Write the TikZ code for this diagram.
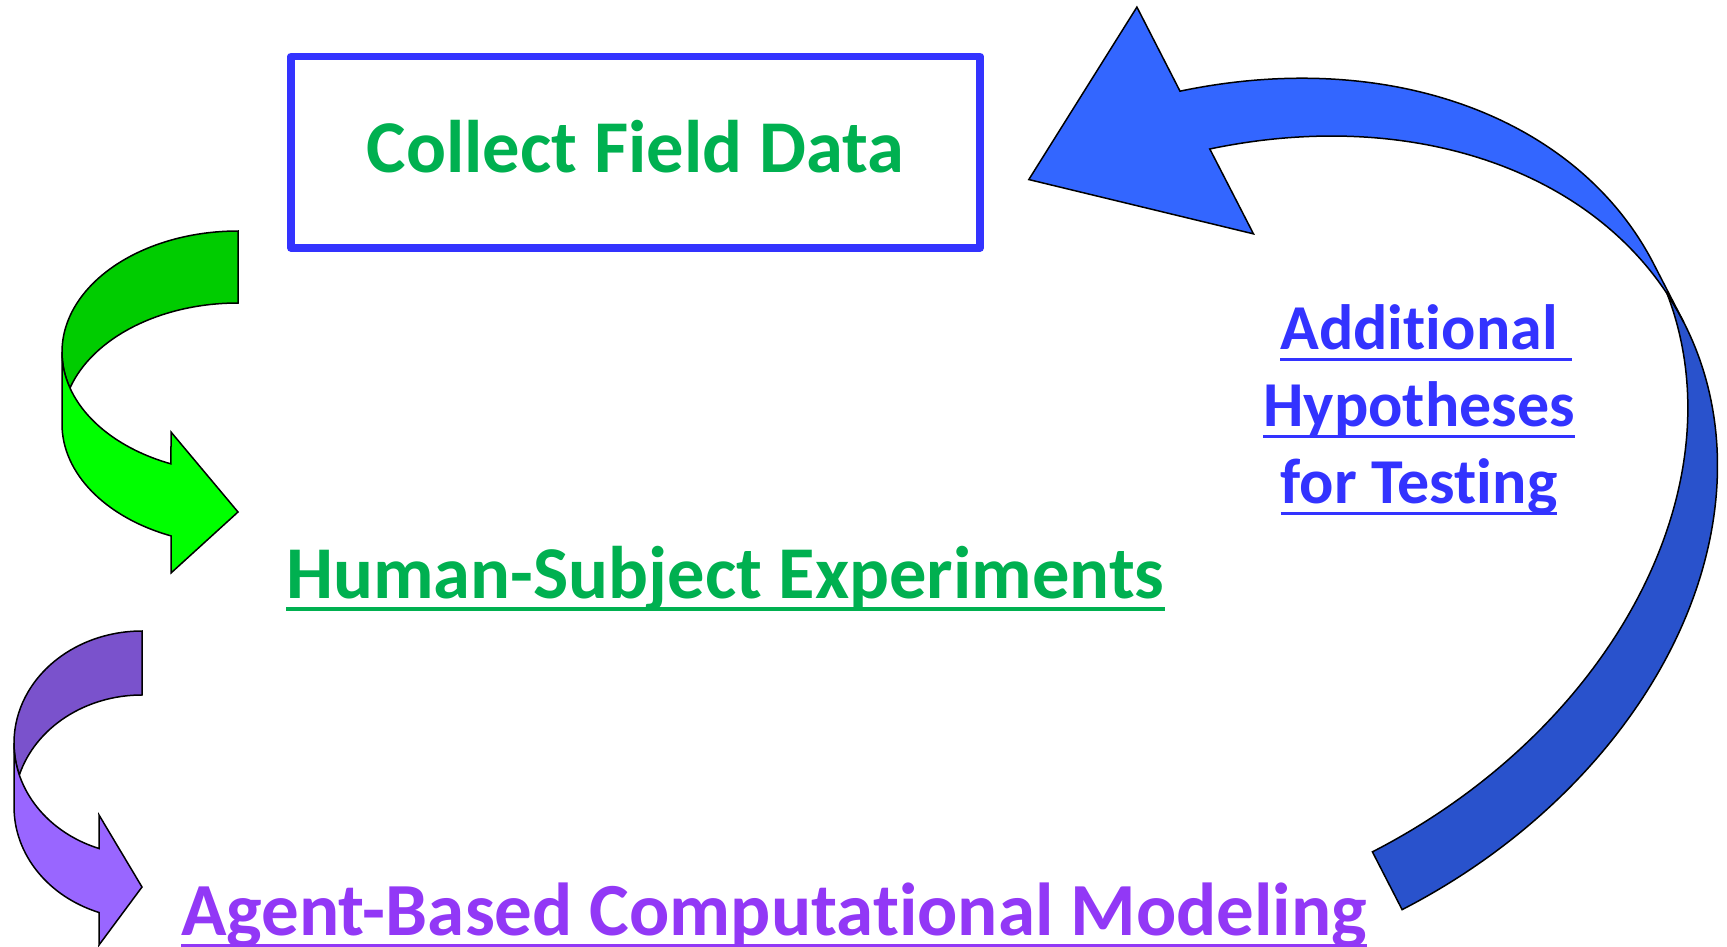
\documentclass[tikz,border=0pt]{standalone}
\usepackage{fontspec}
\setmainfont{Carlito}[Ligatures=NoCommon]
\usepackage{tikz}
\usepackage{xcolor}
\definecolor{boxblue}{RGB}{51,51,255}
\definecolor{txtgreen}{RGB}{0,176,80}
\definecolor{txtpurple}{RGB}{146,56,246}
\definecolor{txtblue}{RGB}{51,51,255}
\definecolor{grnlight}{RGB}{0,255,0}
\definecolor{grndark}{RGB}{0,204,0}
\definecolor{purlight}{RGB}{153,102,255}
\definecolor{purdark}{RGB}{122,82,204}
\definecolor{bluelight}{RGB}{51,102,255}
\definecolor{bluedark}{RGB}{41,82,204}
\newlength\ulwidth
\newcommand\ultext[1]{\settowidth\ulwidth{#1}\rlap{\rule[-0.18em]{\ulwidth}{0.055em}}#1}
\tikzset{
    ribbon/.style={
        fill=#1,draw=black,line width=1.5pt,line join=miter
    },
    ribbon/.default=grnlight,
    heading/.style={
        inner sep=0pt,font=\bfseries\fontsize{#1}{#1}\selectfont
    },
    heading/.default=74.5
}

\begin{document}
\begin{tikzpicture}[x=1pt,y=-1pt]
\useasboundingbox (0,0) rectangle (1727,947);

\begin{scope}[rotate=27.2]
\draw[ribbon=bluedark] (831.3,1450) arc[start angle=90,end angle=-4.73,x radius=519,y radius=394]
    arc[start angle=4.73,end angle=90,x radius=519,y radius=394] -- cycle;
\draw[ribbon=bluelight] (1350.3,1056) arc[start angle=0,end angle=-70.1,x radius=519,y radius=394]
    -- (1008,781) -- (833,630) -- (1008,526) -- (1007.9,620.5)
    arc[start angle=-70.1,end angle=0,x radius=519,y radius=394] -- cycle;
\end{scope}

\draw[ribbon=grndark] (238,231) arc[start angle=270,end angle=162.69,x radius=176,y radius=121]
    arc[start angle=197.31,end angle=270,x radius=176,y radius=121] -- cycle;
\draw[ribbon=grnlight] (62,352) arc[start angle=180,end angle=112.38,x radius=176,y radius=121]
    -- (171,432) -- (238,512) -- (171,573) -- (171,535.9)
    arc[start angle=112.38,end angle=180,x radius=176,y radius=121] -- cycle;

\draw[ribbon=purdark] (142,631) arc[start angle=270,end angle=163.4,x radius=128,y radius=112]
    arc[start angle=196.6,end angle=270,x radius=128,y radius=112] -- cycle;
\draw[ribbon=purlight] (14,743) arc[start angle=180,end angle=109.6,x radius=128,y radius=112]
    -- (99,815) -- (142,887) -- (99,945) -- (99.1,912.5)
    arc[start angle=109.6,end angle=180,x radius=128,y radius=112] -- cycle;

\node[heading,text=txtgreen,draw=boxblue,line width=7.5pt,line join=round,
    text height=45pt,text depth=5pt,
    minimum width=689pt,minimum height=191.5pt] (collect) at (635.5,152.25) {Collect Field Data};
\node[heading,text=txtgreen,anchor=base west] (human) at (286,598) {\ultext{Human-Subject Experiments}};
\node[heading=75,text=txtpurple,anchor=base west] (agent) at (181,935) {\ultext{Agent-Based Computational Modeling}};
\node[font=\bfseries\fontsize{64}{77}\selectfont,inner sep=0pt,text=txtblue,align=center] (hypo) at (1419,410)
    {\ultext{Additional}\rlap{\ultext{~}}\\\ultext{Hypotheses}\\\ultext{for Testing}};

\end{tikzpicture}
\end{document}
